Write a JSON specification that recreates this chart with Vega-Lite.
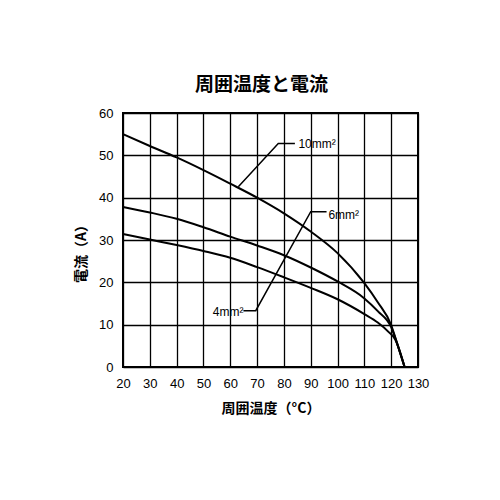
{
  "$schema": "https://vega.github.io/schema/vega-lite/v6.json",
  "width": 295,
  "height": 254,
  "autosize": {"type": "none"},
  "padding": {"left": 123, "top": 113, "right": 82, "bottom": 133},
  "background": "white",
  "config": {
    "view": {"stroke": "black", "strokeWidth": 2},
    "axis": {
      "labelFont": "Liberation Sans",
      "labelFontSize": 13,
      "labelColor": "black",
      "labelOverlap": false,
      "labelFlush": false,
      "ticks": false,
      "domain": false,
      "gridColor": "black",
      "gridOpacity": 1,
      "gridWidth": 1.3,
      "titleFont": "Noto Sans CJK JP",
      "titleFontSize": 14,
      "titleFontWeight": "bold",
      "titleColor": "black"
    }
  },
  "title": {
    "text": "周囲温度と電流",
    "font": "Noto Sans CJK JP",
    "fontSize": 19,
    "fontWeight": "bold",
    "color": "black",
    "dx": -9,
    "offset": 12
  },
  "datasets": {
    "curves": [
      {"series": "10mm2", "temp": 20, "current": 55.0},
      {"series": "10mm2", "temp": 30, "current": 52.2},
      {"series": "10mm2", "temp": 40, "current": 49.5},
      {"series": "10mm2", "temp": 50, "current": 46.5},
      {"series": "10mm2", "temp": 60, "current": 43.3},
      {"series": "10mm2", "temp": 70, "current": 40.0},
      {"series": "10mm2", "temp": 80, "current": 36.3},
      {"series": "10mm2", "temp": 90, "current": 32.0},
      {"series": "10mm2", "temp": 100, "current": 26.9},
      {"series": "10mm2", "temp": 110, "current": 19.8},
      {"series": "10mm2", "temp": 115, "current": 15.3},
      {"series": "10mm2", "temp": 120, "current": 9.9},
      {"series": "10mm2", "temp": 121.5, "current": 7.0},
      {"series": "10mm2", "temp": 125, "current": 0},
      {"series": "6mm2", "temp": 20, "current": 37.8},
      {"series": "6mm2", "temp": 30, "current": 36.5},
      {"series": "6mm2", "temp": 40, "current": 35.0},
      {"series": "6mm2", "temp": 50, "current": 33.0},
      {"series": "6mm2", "temp": 60, "current": 30.8},
      {"series": "6mm2", "temp": 70, "current": 28.7},
      {"series": "6mm2", "temp": 80, "current": 26.4},
      {"series": "6mm2", "temp": 90, "current": 23.5},
      {"series": "6mm2", "temp": 100, "current": 20.2},
      {"series": "6mm2", "temp": 110, "current": 16.2},
      {"series": "6mm2", "temp": 115, "current": 13.2},
      {"series": "6mm2", "temp": 120, "current": 9.4},
      {"series": "6mm2", "temp": 121.5, "current": 6.9},
      {"series": "6mm2", "temp": 125, "current": 0},
      {"series": "4mm2", "temp": 20, "current": 31.4},
      {"series": "4mm2", "temp": 30, "current": 30.1},
      {"series": "4mm2", "temp": 40, "current": 28.8},
      {"series": "4mm2", "temp": 50, "current": 27.4},
      {"series": "4mm2", "temp": 60, "current": 25.8},
      {"series": "4mm2", "temp": 70, "current": 23.6},
      {"series": "4mm2", "temp": 80, "current": 21.2},
      {"series": "4mm2", "temp": 90, "current": 18.7},
      {"series": "4mm2", "temp": 100, "current": 16.0},
      {"series": "4mm2", "temp": 110, "current": 12.5},
      {"series": "4mm2", "temp": 115, "current": 10.5},
      {"series": "4mm2", "temp": 119, "current": 8.3},
      {"series": "4mm2", "temp": 121.5, "current": 6.5},
      {"series": "4mm2", "temp": 125, "current": 0}
    ],
    "leaders": [
      {"leader": "10mm2", "seq": 1, "temp": 63.0, "current": 42.6},
      {"leader": "10mm2", "seq": 2, "temp": 77.9, "current": 52.8},
      {"leader": "10mm2", "seq": 3, "temp": 84.1, "current": 52.8},
      {"leader": "4mm2-6mm2", "seq": 1, "temp": 64.9, "current": 13.3},
      {"leader": "4mm2-6mm2", "seq": 2, "temp": 69.5, "current": 13.3},
      {"leader": "4mm2-6mm2", "seq": 3, "temp": 90.0, "current": 36.7},
      {"leader": "4mm2-6mm2", "seq": 4, "temp": 95.9, "current": 36.7}
    ],
    "labels": [
      {"label": "10mm²", "temp": 85.4, "current": 52.6},
      {"label": "6mm²", "temp": 96.6, "current": 36.0},
      {"label": "4mm²", "temp": 53.5, "current": 13.0}
    ]
  },
  "encoding": {
    "x": {
      "field": "temp", "type": "quantitative",
      "scale": {"domain": [20, 130], "nice": false, "zero": false},
      "axis": {
        "values": [20, 30, 40, 50, 60, 70, 80, 90, 100, 110, 120, 130],
        "tickCount": 12,
        "labelPadding": 10,
        "title": "周囲温度（°C）",
        "titleBaseline": "middle",
        "titleY": 41
      }
    },
    "y": {
      "field": "current", "type": "quantitative",
      "scale": {"domain": [0, 60], "nice": false},
      "axis": {
        "values": [0, 10, 20, 30, 40, 50, 60],
        "labelPadding": 10,
        "title": "電流（A）",
        "titleBaseline": "middle",
        "titleX": -42,
        "titleY": 137
      }
    }
  },
  "layer": [
    {
      "data": {"name": "curves"},
      "mark": {"type": "line", "color": "black", "strokeWidth": 2, "interpolate": "monotone"},
      "encoding": {
        "detail": {"field": "series"}
      }
    },
    {
      "data": {"name": "leaders"},
      "mark": {"type": "line", "color": "black", "strokeWidth": 1.5},
      "encoding": {
        "detail": {"field": "leader"},
        "order": {"field": "seq"}
      }
    },
    {
      "data": {"name": "labels"},
      "mark": {"type": "text", "align": "left", "baseline": "middle", "font": "Liberation Sans", "fontSize": 12, "color": "black"},
      "encoding": {
        "text": {"field": "label"}
      }
    }
  ]
}
